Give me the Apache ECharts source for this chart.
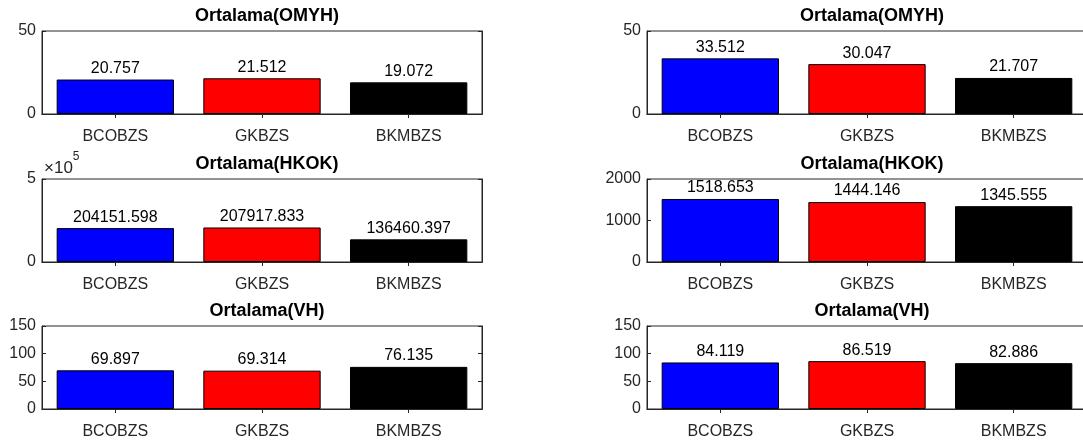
<!DOCTYPE html>
<html>
<head>
<meta charset="utf-8">
<script src="https://cdn.jsdelivr.net/npm/echarts@6/dist/echarts.min.js"></script>
<style>
  html, body { margin: 0; padding: 0; background: #fff; overflow: hidden; }
  #chart { width: 1090px; height: 445px; }
</style>
</head>
<body>
<div id="chart"></div>
<script>
// ---- data ----
const categories = ['BCOBZS', 'GKBZS', 'BKMBZS'];
const barColors = ['#0000ff', '#ff0000', '#000000'];
const titles = ['Ortalama(OMYH)', 'Ortalama(HKOK)', 'Ortalama(VH)'];

const omyhLeft = [20.757, 21.512, 19.072];
const hkokLeft = [204151.598, 207917.833, 136460.397];
const vhLeft = [69.897, 69.314, 76.135];

const omyhRight = [33.512, 30.047, 21.707];
const hkokRight = [1518.653, 1444.146, 1345.555];
const vhRight = [84.119, 86.519, 82.886];

const yMaxLeft = [50, 500000, 150];
const yStepLeft = [50, 500000, 50];
const yMaxRight = [50, 2000, 150];
const yStepRight = [50, 1000, 50];
const yLabelScaleLeft = [1, 1e5, 1];   // HKOK left shown as x10^5

// ---- layout ----
const colLeft = [42, 647];
const rowTop = [31, 179, 326];
const plotW = 440, plotH = 83;
const axisColor = '#262626';
const fontFam = '"Liberation Sans", Arial, Helvetica, sans-serif';

const panels = [];
const leftData = [omyhLeft, hkokLeft, vhLeft];
const rightData = [omyhRight, hkokRight, vhRight];
for (let r = 0; r < 3; r++) {
  panels.push({ col: 0, row: r, data: leftData[r], max: yMaxLeft[r], step: yStepLeft[r], scale: yLabelScaleLeft[r], title: titles[r] });
  panels.push({ col: 1, row: r, data: rightData[r], max: yMaxRight[r], step: yStepRight[r], scale: 1, title: titles[r] });
}

const grid = [], xAxis = [], yAxis = [], series = [], title = [];
panels.forEach((p, i) => {
  const left = colLeft[p.col], top = rowTop[p.row];
  grid.push({ left: left, top: top, width: plotW, height: plotH, show: true, borderColor: axisColor, borderWidth: 1, backgroundColor: 'transparent', containLabel: false });
  title.push({
    text: p.title, left: left + plotW / 2, top: top - 29, textAlign: 'center',
    textStyle: { fontFamily: fontFam, fontSize: 18, fontWeight: 'bold', color: '#000' }
  });
  xAxis.push({
    type: 'category', gridIndex: i, data: categories, position: 'bottom',
    axisLine: { show: true, lineStyle: { color: axisColor, width: 1 } },
    axisTick: { show: true, inside: true, length: 4, alignWithLabel: true, lineStyle: { color: axisColor } },
    axisLabel: { color: axisColor, fontFamily: fontFam, fontSize: 16, margin: 15 },
    splitLine: { show: false }
  });
  xAxis.push({
    type: 'category', gridIndex: i, data: categories, position: 'top',
    axisLine: { show: true, lineStyle: { color: axisColor, width: 1 } },
    axisTick: { show: true, inside: true, length: 4, alignWithLabel: true, lineStyle: { color: axisColor } },
    axisLabel: { show: false }, splitLine: { show: false }
  });
  const yName = p.scale !== 1 ? '{a|×10}{b|5}' : '';
  yAxis.push({
    type: 'value', gridIndex: i, min: 0, max: p.max, interval: p.step, position: 'left',
    name: yName, nameLocation: 'end', nameGap: 2,
    nameTextStyle: {
      align: 'left', verticalAlign: 'bottom', padding: [0, 0, 0, 2],
      rich: {
        a: { fontFamily: fontFam, fontSize: 17, color: axisColor, lineHeight: 18, verticalAlign: 'bottom' },
        b: { fontFamily: fontFam, fontSize: 12, color: axisColor, lineHeight: 26, verticalAlign: 'top' }
      }
    },
    axisLine: { show: true, lineStyle: { color: axisColor, width: 1 } },
    axisTick: { show: true, inside: true, length: 4, lineStyle: { color: axisColor } },
    axisLabel: { color: axisColor, fontFamily: fontFam, fontSize: 16, margin: 6, formatter: v => String(v / p.scale) },
    splitLine: { show: false }
  });
  yAxis.push({
    type: 'value', gridIndex: i, min: 0, max: p.max, interval: p.step, position: 'right',
    axisLine: { show: true, lineStyle: { color: axisColor, width: 1 } },
    axisTick: { show: true, inside: true, length: 4, lineStyle: { color: axisColor } },
    axisLabel: { show: false }, splitLine: { show: false }
  });
  series.push({
    type: 'bar', xAxisIndex: 2 * i, yAxisIndex: 2 * i,
    data: p.data.map((v, k) => ({ value: v, itemStyle: { color: barColors[k] } })),
    barWidth: '80%',
    itemStyle: { borderColor: '#000', borderWidth: 1 },
    label: {
      show: true, position: 'top', distance: 3, color: '#000',
      fontFamily: fontFam, fontSize: 16,
      formatter: q => q.value.toFixed(3)
    },
    silent: true, animation: false
  });
});

const chart = echarts.init(document.getElementById('chart'), null, { renderer: 'canvas' });
chart.setOption({
  backgroundColor: '#ffffff',
  animation: false,
  title: title, grid: grid, xAxis: xAxis, yAxis: yAxis, series: series
});
</script>
</body>
</html>
